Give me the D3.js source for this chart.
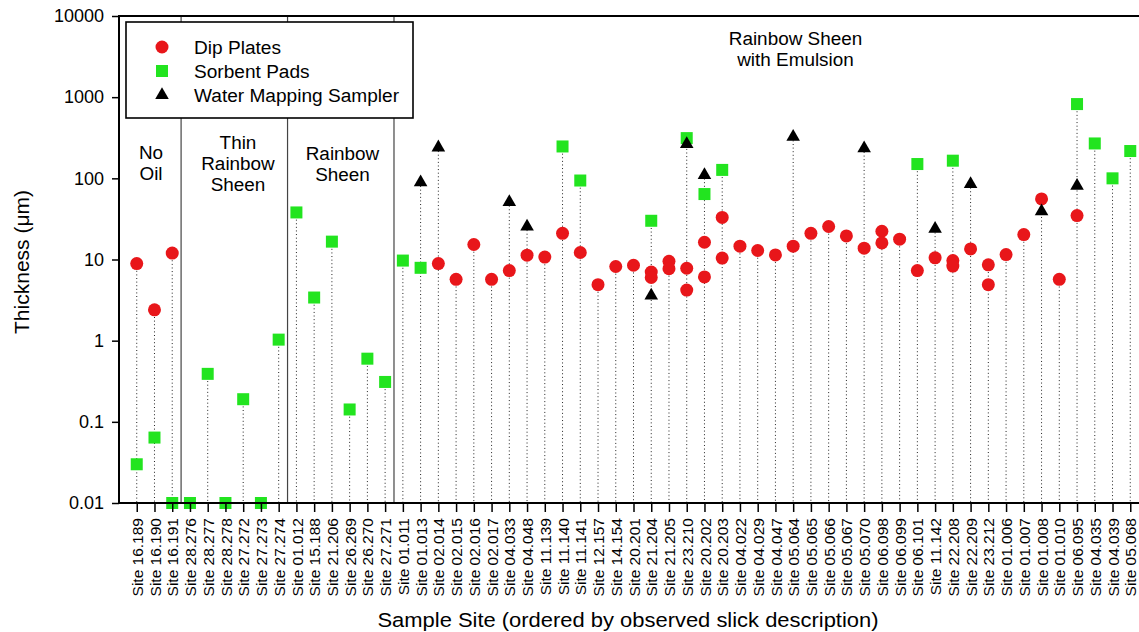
<!DOCTYPE html>
<html>
<head>
<meta charset="utf-8">
<script src="https://cdn.jsdelivr.net/npm/d3@7"></script>
<style>
  body { margin: 0; background: #fff; }
  text { font-family: Arial, "Liberation Sans", sans-serif; fill: #000; }
</style>
</head>
<body>
<svg id="chart" width="1139" height="632"></svg>
<script>
// Sample sites, ordered by observed slick description
const sites = [
  "Site 16.189", "Site 16.190", "Site 16.191",
  "Site 28.276", "Site 28.277", "Site 28.278", "Site 27.272", "Site 27.273", "Site 27.274",
  "Site 01.012", "Site 15.188", "Site 21.206", "Site 26.269", "Site 26.270", "Site 27.271",
  "Site 01.011", "Site 01.013", "Site 02.014", "Site 02.015", "Site 02.016", "Site 02.017",
  "Site 04.033", "Site 04.048", "Site 11.139", "Site 11.140", "Site 11.141", "Site 12.157",
  "Site 14.154", "Site 20.201", "Site 21.204", "Site 21.205", "Site 23.210", "Site 20.202",
  "Site 20.203", "Site 04.022", "Site 04.029", "Site 04.047", "Site 05.064", "Site 05.065",
  "Site 05.066", "Site 05.067", "Site 05.070", "Site 06.098", "Site 06.099", "Site 06.101",
  "Site 11.142", "Site 22.208", "Site 22.209", "Site 23.212", "Site 01.006", "Site 01.007",
  "Site 01.008", "Site 01.010", "Site 06.095", "Site 04.035", "Site 04.039", "Site 05.068"
];

// Thickness (µm) measured with dip plates
const dipPlates = [
  ["Site 16.189", 8.9], ["Site 16.190", 2.4], ["Site 16.191", 12],
  ["Site 02.014", 8.9], ["Site 02.015", 5.7], ["Site 02.016", 15.3], ["Site 02.017", 5.7],
  ["Site 04.033", 7.3], ["Site 04.048", 11.3], ["Site 11.139", 10.7], ["Site 11.140", 21],
  ["Site 11.141", 12.2], ["Site 12.157", 4.9], ["Site 14.154", 8.2], ["Site 20.201", 8.5],
  ["Site 21.204", 7.0], ["Site 21.204", 6.0], ["Site 21.205", 9.5], ["Site 21.205", 7.7],
  ["Site 23.210", 7.8], ["Site 23.210", 4.2], ["Site 20.202", 16.3], ["Site 20.202", 6.1],
  ["Site 20.203", 33], ["Site 20.203", 10.4], ["Site 04.022", 14.6], ["Site 04.029", 12.9],
  ["Site 04.047", 11.4], ["Site 05.064", 14.6], ["Site 05.065", 21], ["Site 05.066", 25.5],
  ["Site 05.067", 19.5], ["Site 05.070", 13.8], ["Site 06.098", 22.3], ["Site 06.098", 16.0],
  ["Site 06.099", 17.8], ["Site 06.101", 7.3], ["Site 11.142", 10.5], ["Site 22.208", 9.7],
  ["Site 22.208", 8.3], ["Site 22.209", 13.5], ["Site 23.212", 8.6], ["Site 23.212", 4.9],
  ["Site 01.006", 11.5], ["Site 01.007", 20.3], ["Site 01.008", 55.7], ["Site 01.010", 5.7],
  ["Site 06.095", 34.8]
];

// Thickness (µm) measured with sorbent pads
const sorbentPads = [
  ["Site 16.189", 0.030], ["Site 16.190", 0.064], ["Site 16.191", 0.01],
  ["Site 28.276", 0.01], ["Site 28.277", 0.39], ["Site 28.278", 0.01], ["Site 27.272", 0.19],
  ["Site 27.273", 0.01], ["Site 27.274", 1.03], ["Site 01.012", 38], ["Site 15.188", 3.4],
  ["Site 21.206", 16.6], ["Site 26.269", 0.142], ["Site 26.270", 0.6], ["Site 27.271", 0.31],
  ["Site 01.011", 9.7], ["Site 01.013", 7.9], ["Site 11.140", 247], ["Site 11.141", 94],
  ["Site 21.204", 30], ["Site 23.210", 313], ["Site 20.202", 64], ["Site 20.203", 127],
  ["Site 06.101", 150], ["Site 22.208", 165], ["Site 06.095", 822], ["Site 04.035", 269],
  ["Site 04.039", 100], ["Site 05.068", 217]
];

// Thickness (µm) measured with the water mapping sampler
const waterSampler = [
  ["Site 01.013", 89], ["Site 02.014", 240], ["Site 04.033", 51], ["Site 04.048", 25.5],
  ["Site 21.204", 3.6], ["Site 23.210", 265], ["Site 20.202", 110], ["Site 05.064", 325],
  ["Site 05.070", 234], ["Site 11.142", 23.8], ["Site 22.209", 85], ["Site 01.008", 39.3],
  ["Site 06.095", 80.6]
];

const yTicks = [0.01, 0.1, 1, 10, 100, 1000, 10000];

// Slick description groups: label lines and the last site of each group
const groupLabels = [
  ["No", "Oil"],
  ["Thin", "Rainbow", "Sheen"],
  ["Rainbow", "Sheen"],
  ["Rainbow Sheen", "with Emulsion"]
];
const groupEnds = ["Site 16.191", "Site 27.274", "Site 27.271", "Site 05.068"];

const legendNames = ["Dip Plates", "Sorbent Pads", "Water Mapping Sampler"];

// ---------------------------------------------------------------- layout
const svg = d3.select("#chart");
const plot = { left: 119, right: 1148, top: 16, bottom: 503 };
const RED = "#e8161a", GREEN = "#22e41f";

const x = d3.scalePoint().domain(sites).range([plot.left, plot.right]).padding(1);
const y = d3.scaleLog().domain([0.01, 10000]).range([plot.bottom, plot.top]);

// stretch horizontal text slightly wider than the font's natural width
function widen(sel, k) {
  sel.each(function () {
    const len = this.getComputedTextLength();
    d3.select(this).attr("textLength", len * k).attr("lengthAdjust", "spacingAndGlyphs");
  });
}

// dotted drop lines from each site's highest reading to the axis
const allReadings = dipPlates.concat(sorbentPads, waterSampler);
const maxBySite = d3.rollups(allReadings, v => d3.max(v, d => d[1]), d => d[0]);
svg.append("g").selectAll("line").data(maxBySite).join("line")
  .attr("x1", d => x(d[0])).attr("x2", d => x(d[0]))
  .attr("y1", d => y(d[1])).attr("y2", plot.bottom)
  .attr("stroke", "#222").attr("stroke-width", 1)
  .attr("stroke-dasharray", "1,2.6");

// group separators
const sepX = groupEnds.slice(0, 3).map(s => x(s) + x.step() / 2);
svg.append("g").selectAll("line").data(sepX).join("line")
  .attr("x1", d => d).attr("x2", d => d)
  .attr("y1", plot.top).attr("y2", plot.bottom)
  .attr("stroke", "#444").attr("stroke-width", 1.2);

// markers
svg.append("g").selectAll("circle").data(dipPlates).join("circle")
  .attr("cx", d => x(d[0])).attr("cy", d => y(d[1])).attr("r", 6.5)
  .attr("fill", RED);

svg.append("g").selectAll("rect").data(sorbentPads).join("rect")
  .attr("x", d => x(d[0]) - 6).attr("y", d => y(d[1]) - 6)
  .attr("width", 12).attr("height", 12).attr("fill", GREEN);

const tri = d3.symbol(d3.symbolTriangle, 80);
svg.append("g").selectAll("path").data(waterSampler).join("path")
  .attr("transform", d => `translate(${x(d[0])},${y(d[1])})`)
  .attr("d", tri).attr("fill", "#000");

// axes frame
const yAxis = d3.axisLeft(y).tickValues(yTicks).tickFormat(d3.format("~g")).tickSize(7).tickPadding(8);
const gy = svg.append("g").attr("transform", `translate(${plot.left},0)`).call(yAxis);
gy.select(".domain").attr("stroke-width", 2).attr("d", `M0,${plot.top}V${plot.bottom}`);
gy.selectAll(".tick line").attr("stroke-width", 1.5);
gy.selectAll(".tick text").style("font-size", "18px").attr("font-family", null);

const xAxis = d3.axisBottom(x).tickSize(9).tickSizeOuter(0).tickPadding(4);
const gx = svg.append("g").attr("transform", `translate(0,${plot.bottom})`).call(xAxis);
gx.select(".domain").attr("stroke-width", 2).attr("d", `M${plot.left},0H${plot.right}`);
gx.selectAll(".tick line").attr("stroke-width", 1.5);
gx.selectAll(".tick text")
  .style("font-size", "15.5px").attr("font-family", null)
  .attr("text-anchor", "end").attr("dy", "0.36em")
  .attr("transform", "rotate(-90)").attr("x", -15).attr("y", 0);

svg.append("line").attr("x1", plot.left - 1).attr("x2", plot.right)
  .attr("y1", plot.top).attr("y2", plot.top)
  .attr("stroke", "#000").attr("stroke-width", 2);

// group labels
const groupCenters = [151, 238, 342.5, 795.5];
const groupTops = [159, 148.5, 160, 45];
groupLabels.forEach((lines, i) => {
  lines.forEach((t, j) => {
    svg.append("text").attr("x", groupCenters[i]).attr("y", groupTops[i] + j * 21)
      .attr("text-anchor", "middle").style("font-size", "18px").text(t)
      .call(widen, 1.05);
  });
});

// legend
const lg = svg.append("g");
lg.append("rect").attr("x", 126).attr("y", 22).attr("width", 287).attr("height", 96)
  .attr("fill", "#fff").attr("stroke", "#000").attr("stroke-width", 1.6);
const legRows = lg.selectAll("g.row").data(legendNames).join("g")
  .attr("class", "row").attr("transform", (d, i) => `translate(162,${47 + i * 24})`);
legRows.filter((d, i) => i === 0).append("circle").attr("r", 6.5).attr("fill", RED);
legRows.filter((d, i) => i === 1).append("rect").attr("x", -6).attr("y", -6)
  .attr("width", 12).attr("height", 12).attr("fill", GREEN);
legRows.filter((d, i) => i === 2).append("path").attr("d", tri).attr("fill", "#000");
legRows.append("text").attr("x", 32).attr("y", 6.5).style("font-size", "18px")
  .text(d => d).call(widen, 1.06);

// axis titles
svg.append("text").attr("x", 628).attr("y", 627).attr("text-anchor", "middle")
  .style("font-size", "20.5px").text("Sample Site (ordered by observed slick description)")
  .call(widen, 1.07);
svg.append("text").attr("transform", "translate(29,262) rotate(-90)")
  .attr("text-anchor", "middle").style("font-size", "21px").text("Thickness (μm)");
</script>
</body>
</html>
